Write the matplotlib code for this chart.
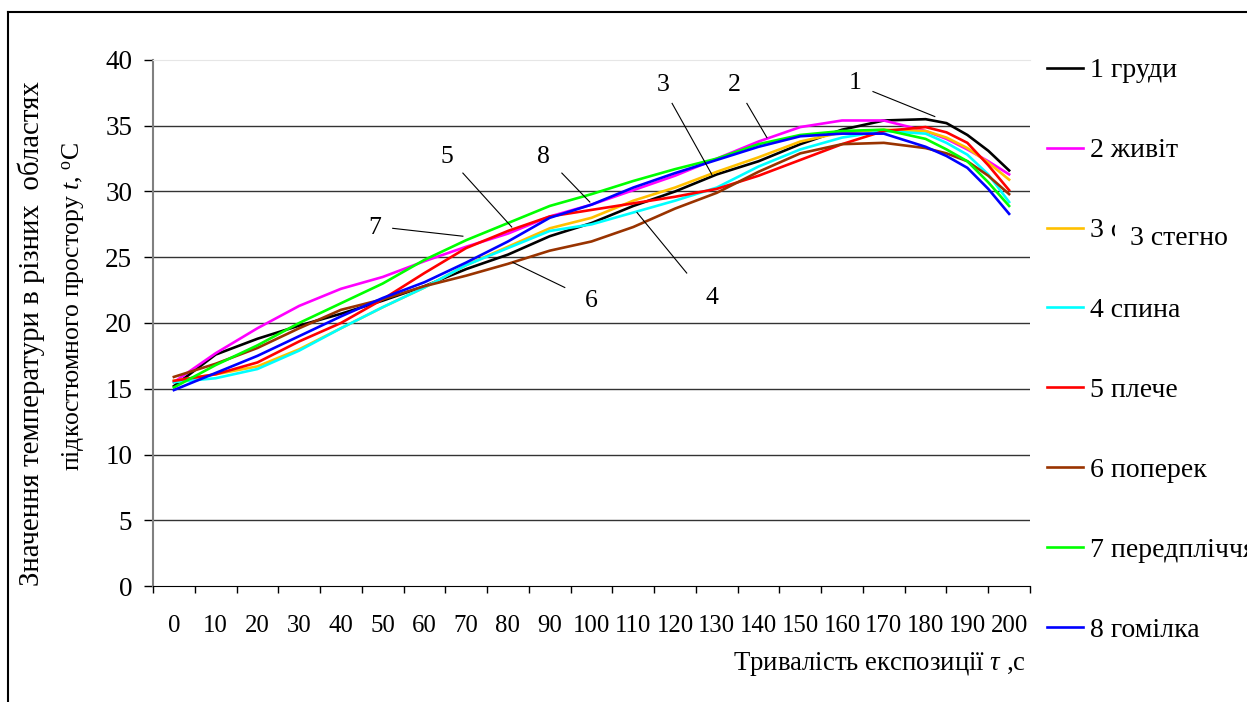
import matplotlib
matplotlib.use("Agg")
import matplotlib.pyplot as plt
from matplotlib.lines import Line2D

plt.rcParams['font.family'] = ['Liberation Serif', 'DejaVu Serif']
plt.rcParams['mathtext.fontset'] = 'custom'
plt.rcParams['mathtext.rm'] = 'Liberation Serif'
plt.rcParams['mathtext.it'] = 'Liberation Serif:italic'

# ---- data ----
t = [0, 10, 20, 30, 40, 50, 60, 70, 80, 90, 100, 110, 120, 130, 140, 150, 160, 170, 180, 185, 190, 195, 200]
s1_grudy = [15.2, 17.6, 18.8, 19.8, 20.7, 21.7, 22.8, 24.1, 25.2, 26.6, 27.6, 28.9, 30.0, 31.3, 32.3, 33.6, 34.7, 35.4, 35.5, 35.2, 34.3, 33.1, 31.6]
s2_zhyvit = [15.5, 17.7, 19.6, 21.3, 22.6, 23.5, 24.7, 25.8, 26.8, 28.1, 29.0, 30.1, 31.2, 32.5, 33.8, 34.9, 35.4, 35.4, 34.6, 34.0, 33.2, 32.3, 31.3]
s3_stegno = [15.6, 16.1, 16.7, 18.0, 19.6, 21.2, 22.7, 24.4, 25.8, 27.2, 28.0, 29.3, 30.3, 31.5, 32.6, 33.8, 34.5, 34.7, 34.6, 34.1, 33.3, 32.2, 30.9]
s4_spyna = [15.5, 15.8, 16.5, 17.9, 19.6, 21.2, 22.7, 24.4, 25.7, 27.0, 27.5, 28.4, 29.3, 30.3, 31.9, 33.2, 34.1, 34.6, 34.4, 33.7, 32.8, 31.3, 29.2]
s5_pleche = [15.6, 16.1, 17.0, 18.6, 20.0, 21.8, 23.8, 25.7, 27.0, 28.1, 28.6, 29.1, 29.6, 30.2, 31.2, 32.4, 33.6, 34.6, 34.9, 34.5, 33.7, 32.0, 30.1]
s6_poperek = [15.9, 16.9, 18.1, 19.6, 21.0, 21.8, 22.8, 23.6, 24.5, 25.5, 26.2, 27.3, 28.7, 29.9, 31.5, 32.9, 33.6, 33.7, 33.3, 32.9, 32.3, 31.2, 29.8]
s7_peredplichchia = [15.1, 16.8, 18.3, 20.0, 21.5, 23.0, 24.8, 26.3, 27.6, 28.9, 29.8, 30.8, 31.7, 32.5, 33.6, 34.3, 34.6, 34.7, 34.0, 33.2, 32.3, 30.7, 28.9]
s8_homilka = [14.9, 16.2, 17.5, 19.0, 20.5, 21.9, 23.1, 24.6, 26.2, 28.0, 29.0, 30.3, 31.4, 32.4, 33.4, 34.2, 34.4, 34.4, 33.4, 32.7, 31.8, 30.2, 28.3]

series = [s1_grudy, s2_zhyvit, s3_stegno, s4_spyna, s5_pleche, s6_poperek, s7_peredplichchia, s8_homilka]
labels = ['1 груди', '2 живіт', '3 стегно', '4 спина', '5 плече', '6 поперек', '7 передпліччя', '8 гомілка']
colors = ['#000000', '#FF00FF', '#FFC000', '#00FFFF', '#FF0000', '#993300', '#00FF00', '#0000FF']

x_ticks = list(range(0, 201, 10))
y_ticks = list(range(0, 41, 5))

# annotation: label, text pos (t, v), line start, line end
annotations = [
    ('1', (163.1, 38.25), (167.4, 37.6), (182.2, 35.7)),
    ('2', (134.1, 38.1), (137.2, 36.7), (142.0, 34.1)),
    ('3', (117.1, 38.1), (119.3, 36.7), (128.8, 31.3)),
    ('4', (128.8, 21.9), (122.8, 23.8), (110.9, 28.4)),
    ('5', (65.4, 32.6), (69.2, 31.4), (80.9, 27.3)),
    ('8', (88.4, 32.6), (92.9, 31.4), (99.6, 29.2)),
    ('7', (48.1, 27.2), (52.4, 27.2), (69.2, 26.6)),
    ('6', (99.9, 21.7), (93.6, 22.7), (81.2, 24.6)),
]

W, H = 1247, 702
fig = plt.figure(figsize=(W / 100, H / 100), dpi=100)
ax = fig.add_axes([153 / W, 1 - 586 / H, (1030 - 153) / W, (586 - 60) / H])

handles = []
for s, c, lab in zip(series, colors, labels):
    h, = ax.plot(t, s, color=c, lw=1.9, label=lab, solid_joinstyle='round')
    handles.append(h)

ax.set_xlim(-5, 205)
ax.set_ylim(0, 40)
ax.set_yticks(y_ticks)
ax.set_xticks(x_ticks)
ax.set_xticklabels([str(v) for v in x_ticks])
ax.set_xticks([v - 5 for v in x_ticks] + [205], minor=True)
ax.tick_params(axis='x', which='major', length=0, pad=21, labelsize=17.8)
ax.tick_params(axis='x', which='minor', length=5, width=1, direction='out', color='#000000')
ax.tick_params(axis='y', which='major', length=6.5, width=1, direction='out', color='#000000',
               labelsize=19.5, pad=8.5)

for v in y_ticks[1:-1]:
    ax.axhline(v, color='#333333', lw=1, zorder=0)
ax.spines['top'].set_color('#e6e6e6')
ax.spines['right'].set_visible(False)
ax.spines['left'].set_color('#808080')
ax.spines['left'].set_linewidth(1.5)
ax.spines['bottom'].set_color('#000000')

for lab, tp, p0, p1 in annotations:
    ax.text(tp[0], tp[1], lab, fontsize=18.5, ha='center', va='center')
    ax.plot([p0[0], p1[0]], [p0[1], p1[1]], color='#000000', lw=0.8)

# axis labels
fig.text(31 / W, 1 - 334 / H, 'Значення температури в різних  областях', rotation=90,
         ha='center', va='center', fontsize=20.8)
fig.text(74 / W, 1 - 307 / H, r'підкостюмного простору $t$, $^{\mathrm{o}}$C', rotation=90,
         ha='center', va='center', fontsize=18.5)
fig.text(1026 / W, 1 - 664 / H, r'Тривалість експозиції $\tau$ ,c', ha='right', va='center', fontsize=19.3)

# legend
leg = fig.legend(handles, labels, loc='upper left', bbox_to_anchor=(1047 / W, 1 - 58 / H),
                 frameon=False, fontsize=20, borderpad=0, borderaxespad=0,
                 handlelength=1.3, handletextpad=0.25, labelspacing=1.96)
fig.text(1130 / W, 1 - 238 / H, '3 стегно', ha='left', va='center', fontsize=20,
         bbox=dict(facecolor='white', edgecolor='none', pad=11), zorder=10)

# outer frame
fig.add_artist(Line2D([8 / W, 8 / W], [0, 1 - 12 / H], color='black', lw=1.5, transform=fig.transFigure))
fig.add_artist(Line2D([8 / W, 1], [1 - 12 / H, 1 - 12 / H], color='black', lw=1.5, transform=fig.transFigure))

fig.savefig('out.png', dpi=100)
